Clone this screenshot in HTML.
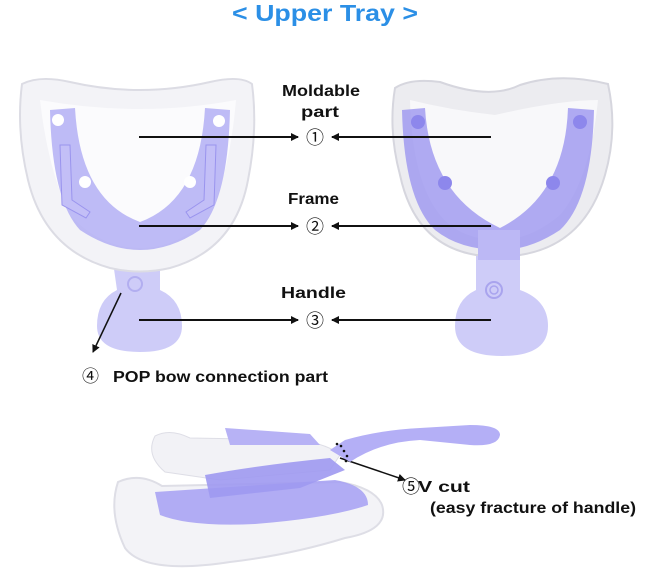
<!DOCTYPE html>
<html><head><meta charset="utf-8"><style>
html,body{margin:0;padding:0;background:#fff;}
svg{display:block;font-family:"Liberation Sans","Noto Sans CJK KR",sans-serif;}
</style></head><body>
<svg width="650" height="587" viewBox="0 0 650 587" xmlns="http://www.w3.org/2000/svg">
<defs>
<marker id="ah" markerWidth="8" markerHeight="8" refX="7" refY="4" orient="auto" markerUnits="userSpaceOnUse"><path d="M0,0 L8,4 L0,8 Z" fill="#111"/></marker>
</defs>
<text x="232" y="21" textLength="186" lengthAdjust="spacingAndGlyphs" font-size="23" font-weight="bold" fill="#2b8fe6">&lt; Upper Tray &gt;</text>

<!-- Left tray -->
<path d="M113,262 L160,262 L160,290 Q182,300 182,326 Q182,352 140,352 Q97,352 97,326 Q97,300 117,290 Z" fill="#c9c6f7" opacity="0.9"/>
<circle cx="135" cy="284" r="7" fill="none" stroke="#b2aef0" stroke-width="2"/>
<path d="M22,84 Q40,75 70,82 Q140,98 210,82 Q240,75 252,84 Q258,130 248,180 Q235,250 170,268 Q140,275 110,268 Q45,250 28,180 Q16,130 22,84 Z" fill="#f3f3f7" stroke="#dcdce4" stroke-width="2"/>
<path d="M40,100 Q140,118 236,100 Q230,170 210,215 Q180,248 140,248 Q100,248 70,215 Q48,170 40,100 Z" fill="#fbfbfd"/>
<path d="M50,110 L75,108 Q80,200 140,222 Q200,200 205,108 L230,110 Q228,200 200,230 Q170,250 140,250 Q110,250 80,230 Q52,200 50,110 Z" fill="#aaa5f3" opacity="0.75"/>
<circle cx="58" cy="120" r="6" fill="#fff"/><circle cx="219" cy="121" r="6" fill="#fff"/>
<circle cx="85" cy="182" r="6" fill="#fff"/><circle cx="190" cy="182" r="6" fill="#fff"/>
<path d="M60,145 L70,145 L72,200 L90,212 L86,218 L62,205 Z" fill="#c3bff7" stroke="#9a94ee"/>
<path d="M216,145 L206,145 L204,200 L186,212 L190,218 L214,205 Z" fill="#c3bff7" stroke="#9a94ee"/>

<!-- Right tray -->
<path d="M476,240 L520,240 L520,290 Q548,300 548,326 Q548,356 502,356 Q455,356 455,326 Q455,300 476,290 Z" fill="#c9c6f7" opacity="0.9"/>
<circle cx="494" cy="290" r="8" fill="none" stroke="#a9a4ee" stroke-width="2"/>
<circle cx="494" cy="290" r="4" fill="none" stroke="#a9a4ee" stroke-width="1.5"/>
<path d="M395,88 Q410,78 440,82 Q490,100 520,85 Q560,72 608,84 Q618,130 605,175 Q585,245 520,255 L476,255 Q415,245 400,175 Q388,130 395,88 Z" fill="#ececf0" stroke="#d6d6de" stroke-width="2"/>
<path d="M410,100 Q450,110 495,115 Q560,100 598,100 Q590,180 560,215 Q530,240 500,240 Q460,240 440,215 Q412,180 410,100 Z" fill="#f8f8fa"/>
<path d="M402,110 L425,108 Q430,195 500,228 Q565,195 568,108 L594,110 Q592,200 560,230 Q530,250 500,250 Q460,250 435,230 Q404,200 402,110 Z" fill="#9c96f0" opacity="0.8"/>
<circle cx="418" cy="122" r="7" fill="#8d87ec"/><circle cx="580" cy="122" r="7" fill="#8d87ec"/>
<circle cx="445" cy="183" r="7" fill="#8d87ec"/><circle cx="553" cy="183" r="7" fill="#8d87ec"/>
<rect x="478" y="230" width="42" height="30" fill="#bcb8f5"/>

<!-- Labels / arrows -->
<g font-size="16" font-weight="bold" fill="#111">
<text x="282" y="96" textLength="78" lengthAdjust="spacingAndGlyphs">Moldable</text>
<text x="301" y="117" textLength="38" lengthAdjust="spacingAndGlyphs">part</text>
<text x="288" y="204" textLength="51" lengthAdjust="spacingAndGlyphs">Frame</text>
<text x="281" y="298" textLength="65" lengthAdjust="spacingAndGlyphs">Handle</text>
</g>
<g font-size="18" fill="#111" text-anchor="middle">
<text x="315" y="144">①</text><text x="315" y="233">②</text><text x="315" y="327">③</text>
</g>
<g stroke="#111" stroke-width="2" marker-end="url(#ah)">
<line x1="139" y1="137" x2="298" y2="137"/><line x1="491" y1="137" x2="332" y2="137"/>
<line x1="139" y1="226" x2="298" y2="226"/><line x1="491" y1="226" x2="332" y2="226"/>
<line x1="139" y1="320" x2="298" y2="320"/><line x1="491" y1="320" x2="332" y2="320"/>
<line x1="121" y1="293" x2="93" y2="352" stroke-width="1.5"/>
<line x1="340" y1="458" x2="405" y2="480" stroke-width="1.5"/>
</g>
<text x="82" y="382" font-size="17" fill="#111">④</text>
<text x="113" y="382" font-size="16" font-weight="bold" fill="#111" textLength="215" lengthAdjust="spacingAndGlyphs">POP bow connection part</text>

<!-- Bottom tray -->
<path d="M155,436 Q170,428 190,438 L300,440 Q330,445 340,455 L330,470 L220,480 L165,472 Q145,455 155,436 Z" fill="#f2f2f6" stroke="#dedee6"/>
<path d="M225,428 L310,434 L320,445 L230,445 Z" fill="#b7b2f5"/>
<path d="M330,450 L345,440 Q380,430 420,428 L470,425 Q500,425 500,435 Q498,447 470,445 L420,440 Q380,442 350,462 Z" fill="#b4aff6"/>
<path d="M118,482 Q140,472 162,486 L340,482 Q375,488 382,505 Q390,530 345,538 Q290,555 230,562 Q145,575 125,548 Q108,512 118,482 Z" fill="#f3f3f7" stroke="#dedee6" stroke-width="2"/>
<path d="M155,492 L335,480 Q368,486 368,505 Q330,518 255,524 Q190,527 160,515 Z" fill="#a59ff3" opacity="0.85"/>
<path d="M205,475 Q260,465 330,458 L345,470 L300,488 L210,498 Z" fill="#9f99f1" opacity="0.9"/>
<g fill="#111"><circle cx="341" cy="446" r="1.3"/><circle cx="344" cy="451" r="1.3"/><circle cx="347" cy="456" r="1.3"/><circle cx="337" cy="444" r="1.3"/><circle cx="346" cy="461" r="1.3"/></g>
<text x="402" y="493" font-size="18" fill="#111">⑤</text>
<text x="418" y="492" font-size="16" font-weight="bold" fill="#111" textLength="52" lengthAdjust="spacingAndGlyphs">V cut</text>
<text x="430" y="513" font-size="16" font-weight="bold" fill="#111" textLength="206" lengthAdjust="spacingAndGlyphs">(easy fracture of handle)</text>
</svg>
</body></html>
